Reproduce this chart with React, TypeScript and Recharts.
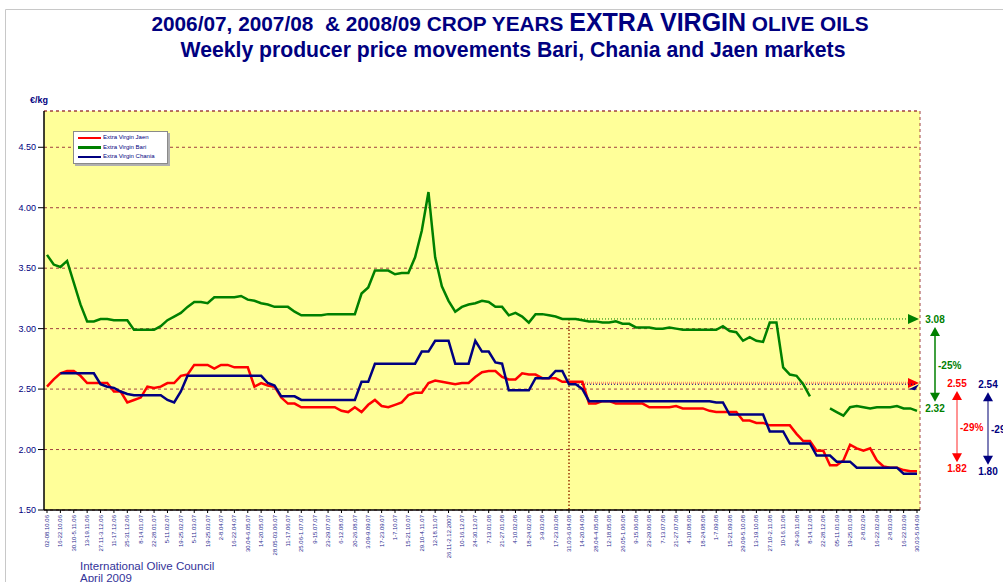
import { CartesianGrid, Legend, Line, LineChart, ReferenceLine, XAxis, YAxis } from "recharts";

// fortnightly tick labels (data is weekly, first week 02-08.10.06)
const WEEK_LABELS = [
  "02-08.10.06", "16-22.10.06", "30.10-5.11.06", "13-19.11.06", "27.11-3.12.06", "11-17.12.06",
  "25-31.12.06", "8-14.01.07", "22-28.01.07", "5-11.02.07", "19-25.02.07", "5-11.03.07",
  "19-25.03.07", "2-8.04.07", "16-22.04.07", "30.04-6.05.07", "14-20.05.07", "28.05-03.06.07",
  "11-17.06.07", "25.06-1.07.07", "9-15.07.07", "23-29.07.07", "6-12.08.07", "20-26.08.07",
  "3.09-9.09.07", "17-23.09.07", "1-7.10.07", "15-21.10.07", "29.10-4.11.07", "12-18.11.07",
  "26.11-2.12.2007", "10-16.12.07", "24-30.12.07", "7-13.01.08", "21-27.01.08", "4-10.02.08",
  "18-24.02.08", "3-9.03.08", "17-23.03.08", "31.03-6.04.08", "14-20.04.08", "28.04-4.05.08",
  "12-18.05.08", "26.05-1.06.08", "9-15.06.08", "23-29.06.08", "7-13.07.08", "21-27.07.08",
  "4-10.08.08", "18-24.08.08", "1-7.09.08", "15-21.09.08", "29.09-5.10.08", "13-19.10.08",
  "27.10-2.11.08", "10-16.11.08", "24-30.11.08", "8-14.12.08", "22-28.12.08", "05-11.01.09",
  "19-25.01.09", "2-8.02.09", "16-22.02.09", "2-8.03.09", "16-22.03.09", "30.03-5.04.09",
];

const JAEN = [
  2.52, 2.58, 2.63, 2.65, 2.65, 2.61, 2.55, 2.55, 2.55, 2.55,
  2.48, 2.48, 2.39, 2.41, 2.43, 2.52, 2.51, 2.52, 2.55, 2.55,
  2.61, 2.62, 2.70, 2.70, 2.70, 2.67, 2.70, 2.70, 2.68, 2.68,
  2.68, 2.52, 2.55, 2.53, 2.52, 2.43, 2.38, 2.38, 2.35, 2.35,
  2.35, 2.35, 2.35, 2.35, 2.32, 2.31, 2.35, 2.31, 2.37, 2.41,
  2.36, 2.35, 2.37, 2.39, 2.45, 2.47, 2.47, 2.55, 2.57, 2.56,
  2.55, 2.54, 2.55, 2.55, 2.60, 2.64, 2.65, 2.65, 2.60, 2.58,
  2.58, 2.63, 2.62, 2.62, 2.59, 2.59, 2.59, 2.56, 2.56, 2.56,
  2.56, 2.38, 2.38, 2.40, 2.40, 2.38, 2.38, 2.38, 2.38, 2.38,
  2.35, 2.35, 2.35, 2.35, 2.36, 2.34, 2.34, 2.34, 2.34, 2.32,
  2.31, 2.31, 2.31, 2.31, 2.24, 2.24, 2.22, 2.22, 2.20, 2.20,
  2.20, 2.20, 2.13, 2.07, 2.07, 1.99, 1.99, 1.87, 1.87, 1.91,
  2.04, 2.01, 1.99, 2.01, 1.91, 1.86, 1.85, 1.85, 1.83, 1.82,
  1.82,
];

const BARI = [
  3.61, 3.53, 3.51, 3.56, 3.38, 3.20, 3.06, 3.06, 3.08, 3.08,
  3.07, 3.07, 3.07, 2.99, 2.99, 2.99, 2.99, 3.02, 3.07, 3.10,
  3.13, 3.18, 3.22, 3.22, 3.21, 3.26, 3.26, 3.26, 3.26, 3.27,
  3.24, 3.23, 3.21, 3.20, 3.18, 3.18, 3.18, 3.14, 3.11, 3.11,
  3.11, 3.11, 3.12, 3.12, 3.12, 3.12, 3.12, 3.29, 3.34, 3.48,
  3.48, 3.48, 3.45, 3.46, 3.46, 3.59, 3.81, 4.13, 3.59, 3.35,
  3.23, 3.14, 3.18, 3.20, 3.21, 3.23, 3.22, 3.18, 3.18, 3.11,
  3.13, 3.10, 3.05, 3.12, 3.12, 3.11, 3.10, 3.08, 3.08, 3.08,
  3.07, 3.06, 3.06, 3.05, 3.05, 3.06, 3.04, 3.04, 3.01, 3.01,
  3.01, 3.00, 3.00, 3.01, 3.00, 2.99, 2.99, 2.99, 2.99, 2.99,
  2.99, 3.02, 2.98, 2.97, 2.90, 2.93, 2.90, 2.89, 3.05, 3.05,
  2.68, 2.62, 2.61, 2.54, 2.44, null, null, 2.34, 2.31, 2.28,
  2.35, 2.36, 2.35, 2.34, 2.35, 2.35, 2.35, 2.36, 2.34, 2.34,
  2.32,
];

const CHANIA = [
  null, null, 2.63, 2.63, 2.63, 2.63, 2.63, 2.63, 2.54, 2.52,
  2.51, 2.48, 2.46, 2.45, 2.45, 2.45, 2.45, 2.45, 2.41, 2.39,
  2.48, 2.61, 2.61, 2.61, 2.61, 2.61, 2.61, 2.61, 2.61, 2.61,
  2.61, 2.61, 2.61, 2.55, 2.53, 2.44, 2.44, 2.44, 2.41, 2.41,
  2.41, 2.41, 2.41, 2.41, 2.41, 2.41, 2.41, 2.56, 2.56, 2.71,
  2.71, 2.71, 2.71, 2.71, 2.71, 2.71, 2.81, 2.81, 2.90, 2.90,
  2.90, 2.71, 2.71, 2.71, 2.90, 2.81, 2.81, 2.72, 2.71, 2.49,
  2.49, 2.49, 2.49, 2.59, 2.59, 2.59, 2.65, 2.65, 2.54, 2.54,
  2.50, 2.40, 2.40, 2.40, 2.40, 2.40, 2.40, 2.40, 2.40, 2.40,
  2.40, 2.40, 2.40, 2.40, 2.40, 2.40, 2.40, 2.40, 2.40, 2.40,
  2.39, 2.39, 2.29, 2.29, 2.29, 2.29, 2.29, 2.29, 2.15, 2.15,
  2.15, 2.05, 2.05, 2.05, 2.05, 1.95, 1.95, 1.95, 1.90, 1.90,
  1.90, 1.85, 1.85, 1.85, 1.85, 1.85, 1.85, 1.85, 1.80, 1.80,
  1.80,
];

const SERIES = ["jaen", "bari", "chania"];
const SERIES_NAMES = ["Extra Virgin Jaen", "Extra Virgin Bari", "Extra Virgin Chania"];

const Y_TICKS = [1.5, 2, 2.5, 3, 3.5, 4, 4.5];
const Y_MAX = 4.8;

// change since 31.03-6.04.08 (week 78) to the last week
const BASE_WEEK = 78;
const LAST_WEEK = 130;
const CHANGES = [
  { key: "bari", from: 3.08, to: 2.32, pct: "-25%" },
  { key: "jaen", from: 2.55, to: 1.82, pct: "-29%" },
  { key: "chania", from: 2.54, to: 1.8, pct: "-29%" },
];

const NAVY = "#000080";
const FONT = '"Liberation Sans", Arial, sans-serif';
const COLORS: Record<string, string> = { jaen: "#ff0000", bari: "#008000", chania: "#000080" };
const SHAFT: Record<string, string> = { jaen: "#ff7070", bari: "#008000", chania: "#5555a0" };
const GUIDE: Record<string, any> = {
  bari: { stroke: "#008000", width: 1, dash: "1 2" },
  jaen: { stroke: "#ff9a70", width: 2.5, dash: "1 1" },
  chania: { stroke: "#000080", width: 1, dash: "1 2" },
};
const OFFSET: Record<string, number> = { bari: 18, jaen: 40, chania: 71 };

const data = JAEN.map((jaen, week) => ({
  week,
  jaen,
  bari: BARI[week],
  chania: CHANIA[week],
}));

function WeekTick({ x, y, payload }: any) {
  const w = payload.value as number;
  const label = w % 2 === 0 ? WEEK_LABELS[w / 2] : "";
  const tx = x + 2;
  return (
    <text
      x={tx}
      y={y}
      transform={`rotate(-90 ${tx} ${y})`}
      textAnchor="end"
      fontSize={6}
      fontFamily={FONT}
      fill="#2a2a90"
    >
      {label}
    </text>
  );
}

function GuideHead({ viewBox, color, small }: any) {
  const x = viewBox.x + viewBox.width + 2;
  const y = viewBox.y;
  const pts = small
    ? `${x - 10},${y + 5} ${x},${y} ${x - 4},${y + 6}`
    : `${x - 11},${y - 5} ${x},${y} ${x - 11},${y + 5}`;
  return <polygon points={pts} fill={color} />;
}

function ChangeMarker({ viewBox, change }: any) {
  const c = COLORS[change.key];
  const ax = viewBox.x + OFFSET[change.key];
  const top = viewBox.y;
  const bot = viewBox.y + viewBox.height;
  const t1 = top + 8;
  const t2 = bot - 9;
  return (
    <g fontFamily={FONT} fontWeight="bold" fontSize={10} fill={c}>
      <text x={ax} y={top + 4} textAnchor="middle">{change.from.toFixed(2)}</text>
      <line x1={ax} x2={ax} y1={t1 + 8} y2={t2 - 8} stroke={SHAFT[change.key]} strokeWidth={1.5} />
      <polygon points={`${ax - 5},${t1 + 9} ${ax},${t1} ${ax + 5},${t1 + 9}`} fill={c} />
      <polygon points={`${ax - 5},${t2 - 9} ${ax},${t2} ${ax + 5},${t2 - 9}`} fill={c} />
      <text x={ax + 3} y={(top + bot) / 2 + 4} textAnchor="start">{change.pct}</text>
      <text x={ax} y={bot + 1} textAnchor="middle">{change.to.toFixed(2)}</text>
    </g>
  );
}

function LegendBox({ payload }: any) {
  const items = [...(payload || [])].sort(
    (a: any, b: any) => SERIES.indexOf(a.dataKey) - SERIES.indexOf(b.dataKey)
  );
  return (
    <div
      style={{
        background: "#fff",
        border: "1px solid #8a8a8a",
        boxShadow: "2px 2px 0 #b0b0b0",
        padding: "1px 3px 1px 4px",
        fontFamily: FONT,
        fontSize: 6,
        lineHeight: "9.5px",
        color: NAVY,
      }}
    >
      {items.map((p: any) => (
        <div key={p.value} style={{ display: "flex", alignItems: "center", height: 9.5 }}>
          <span style={{ display: "inline-block", width: 23, height: 2.5, background: p.color, marginRight: 2 }} />
          {p.value}
        </div>
      ))}
    </div>
  );
}

export default function App() {
  return (
    <div style={{ position: "absolute", left: 0, top: 0, width: 1003, height: 582, background: "#fff", overflow: "hidden" }}>
      <LineChart width={1003} height={582} data={data} margin={{ top: 111, right: 83, left: 0, bottom: 0 }}>
        <CartesianGrid
          fill="#ffff99"
          stroke="#a04040"
          strokeDasharray="3 3"
          vertical
          verticalCoordinatesGenerator={({ offset }: any) => [offset.left + offset.width]}
        />
        <XAxis
          dataKey="week"
          type="category"
          interval={1}
          tick={<WeekTick />}
          tickSize={3}
          tickLine={{ stroke: "#000" }}
          axisLine={{ stroke: "#000", strokeWidth: 1.5 }}
          height={72}
          padding={{ left: 3, right: 3 }}
        />
        <YAxis
          domain={[1.5, Y_MAX]}
          ticks={Y_TICKS}
          interval={0}
          width={44}
          tickSize={6}
          tickFormatter={(v: number) => v.toFixed(2)}
          tick={{ fill: NAVY, fontSize: 9, fontFamily: FONT }}
          tickLine={{ stroke: "#000" }}
          axisLine={{ stroke: "#000", strokeWidth: 1.5 }}
        />
        <ReferenceLine y={Y_MAX} stroke="#a04040" strokeDasharray="3 3" />
        <ReferenceLine
          segment={[{ x: BASE_WEEK, y: CHANGES[0].from }, { x: BASE_WEEK, y: 1.5 }]}
          stroke="#993300"
          strokeWidth={1.5}
          strokeDasharray="1.5 2"
        />
        {CHANGES.map((c) => (
          <ReferenceLine
            key={`g-${c.key}`}
            segment={[{ x: BASE_WEEK, y: c.from }, { x: LAST_WEEK, y: c.from }]}
            stroke={GUIDE[c.key].stroke}
            strokeWidth={GUIDE[c.key].width}
            strokeDasharray={GUIDE[c.key].dash}
            label={(p: any) => (
              <GuideHead viewBox={p.viewBox} color={COLORS[c.key]} small={c.key === "chania"} />
            )}
          />
        ))}
        {SERIES.map((s, i) => (
          <Line
            key={s}
            name={SERIES_NAMES[i]}
            dataKey={s}
            stroke={COLORS[s]}
            strokeWidth={2.5}
            dot={false}
            isAnimationActive={false}
          />
        ))}
        {CHANGES.map((c) => (
          <ReferenceLine
            key={`c-${c.key}`}
            segment={[{ x: LAST_WEEK, y: c.from }, { x: LAST_WEEK, y: c.to }]}
            stroke="none"
            label={(p: any) => <ChangeMarker viewBox={p.viewBox} change={c} />}
          />
        ))}
        {/* vertical + center + middle keeps the legend from eating into the plot offset */}
        <Legend
          layout="vertical"
          verticalAlign="middle"
          align="center"
          wrapperStyle={{ left: 73, top: 131, width: 95 }}
          content={<LegendBox />}
        />
      </LineChart>
      <svg width={1003} height={582} style={{ position: "absolute", left: 0, top: 0, pointerEvents: "none" }}>
        <path d="M5.5 600 V9.5 H1003" fill="none" stroke="#c8c8c8" />
        <text x={510} y={31} textAnchor="middle" fontFamily={FONT} fontWeight="bold" fontSize={20.8} fill={NAVY}>
          2006/07, 2007/08{"\u00a0 "}&amp; 2008/09 CROP YEARS <tspan fontSize={25}>EXTRA VIRGIN</tspan> OLIVE OILS
        </text>
        <text x={513} y={57} textAnchor="middle" fontFamily={FONT} fontWeight="bold" fontSize={21.2} fill={NAVY}>
          Weekly producer price movements Bari, Chania and Jaen markets
        </text>
        <text x={30} y={103} fontFamily={FONT} fontWeight="bold" fontSize={9} fill={NAVY}>€/kg</text>
        <text x={80} y={570} fontFamily={FONT} fontSize={11.5} fill="#333399">International Olive Council</text>
        <text x={80} y={582} fontFamily={FONT} fontSize={11.5} fill="#333399">April 2009</text>
      </svg>
    </div>
  );
}
